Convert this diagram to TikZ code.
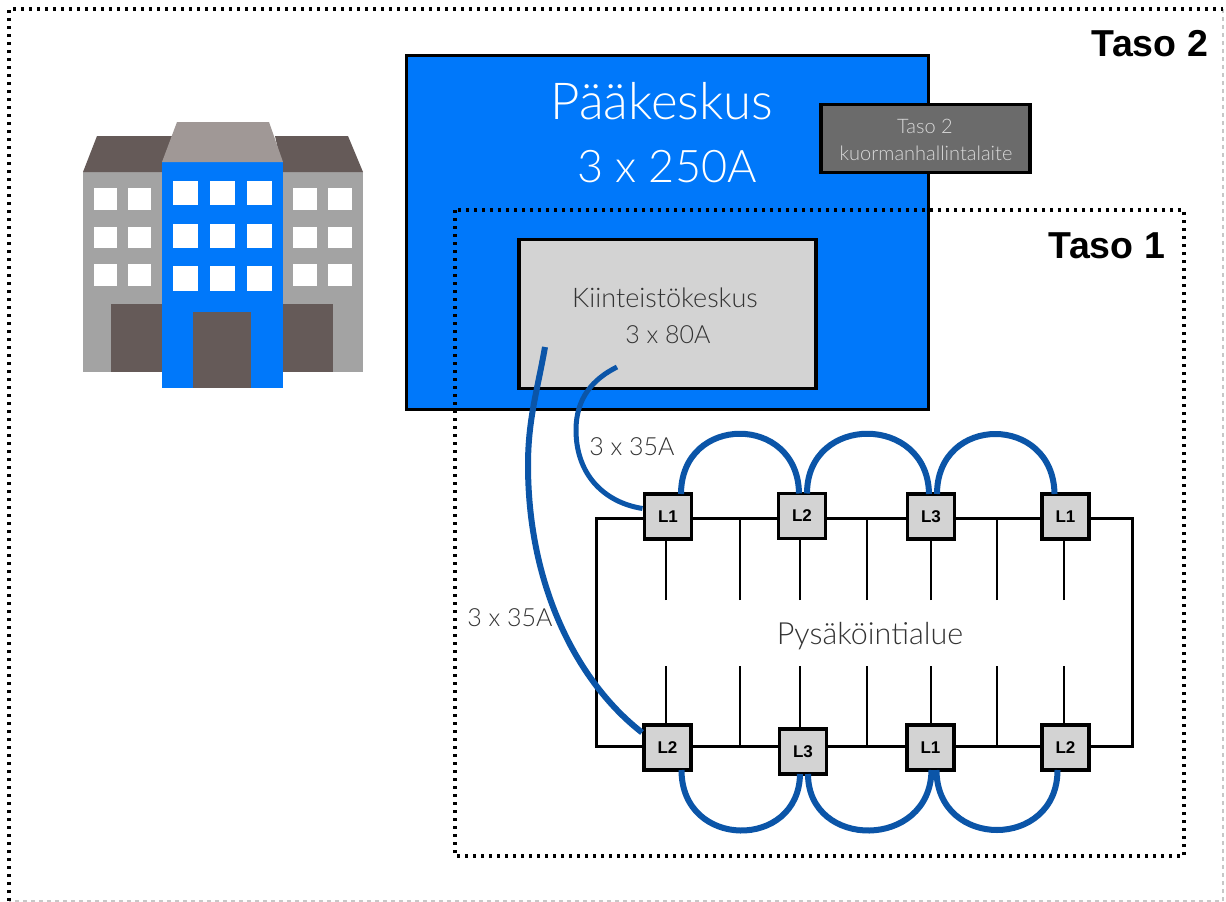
\documentclass[tikz,border=0pt]{standalone}
\usepackage{fontspec}
\setmainfont{Lato}[UprightFont=* Light,BoldFont=* Bold]
\newfontfamily\boldsans{Liberation Sans}[UprightFont=* Bold]
\usetikzlibrary{calc}
\definecolor{mainblue}{HTML}{0078FA}
\definecolor{wire}{HTML}{0B55A8}
\definecolor{wall}{HTML}{A3A3A3}
\definecolor{roofdark}{HTML}{655A58}
\definecolor{rooflight}{HTML}{A09896}
\definecolor{panel}{HTML}{D3D3D3}
\definecolor{dev}{HTML}{6B6B6B}
\definecolor{txt}{HTML}{333333}
\tikzset{
 every node/.style={inner sep=0pt,outer sep=0pt},
 frame/.style={draw=black,line width=3.2pt,dash pattern=on 3.4pt off 4.6pt},
 faintframe/.style={draw=black!22,line width=2pt,dash pattern=on 3.8pt off 4.2pt},
 box/.style={draw=black,line width=3.6pt,anchor=center},
 phase/.style={box,fill=panel,minimum width=47pt,minimum height=45pt,font=\boldsans\fontsize{17}{17}\selectfont},
 cable/.style={draw=wire,line width=6pt},
 gridline/.style={draw=black,line width=3pt},
 stub/.style={draw=black,line width=2.4pt},
 win/.style={fill=white},
 head/.style={font=\boldsans\fontsize{37.5}{37.5}\selectfont,anchor=east},
 lbl/.style={text=txt,font=\fontsize{25}{25}\selectfont},
}
\begin{document}
\begin{tikzpicture}[x=1pt,y=-1pt]
\useasboundingbox (0,0) rectangle (1226,902);
\fill[white] (0,0) rectangle (1226,902);
\coordinate (ftl) at (9,9);\coordinate (ftr) at (1223,9);
\coordinate (fbl) at (9,901);\coordinate (fbr) at (1223,901);
\draw[faintframe] (ftr) -- (fbr) -- (fbl);
\draw[frame] (fbl) -- (ftl) -- (ftr);
% building
\fill[wall] (83,172) rectangle (162,372);
\fill[wall] (283,172) rectangle (363,372);
\fill[roofdark] (83,172)--(97,136)--(172,136)--(162,172)--cycle;
\fill[roofdark] (283,172)--(275,136)--(348,136)--(363,172)--cycle;
\fill[roofdark] (111,304) rectangle (162,372);
\fill[roofdark] (283,304) rectangle (333,372);
\fill[mainblue] (162,162) rectangle (283,388);
\fill[rooflight] (162,162)--(177,122)--(269,122)--(283,162)--cycle;
\fill[roofdark] (193,312) rectangle (251,388);
\foreach \y/\e in {188/210,227/248,264/286}{
 \foreach \x/\f in {94/117,128/151,293/317,328/352}{
  \fill[win] (\x,\y) rectangle (\f,\e);}}
\foreach \y/\e in {181/205,224/248,266/291}{
 \foreach \x/\f in {173/198,210/235,247/272}{
  \fill[win] (\x,\y) rectangle (\f,\e);}}
% main panel
\node[box,fill=mainblue,minimum width=522pt,minimum height=354pt] (main) at (667.5,232.5) {};
\node[text=white,font=\fontsize{51}{51}\selectfont] (mainA) at (662,101) {Pääkeskus};
\node[text=white,font=\fontsize{45}{45}\selectfont] (mainB) at (667,167) {3 x 250A};
\node[box,fill=dev,minimum width=209pt,minimum height=68pt] (dev) at (925.5,138.5) {};
\node[text=white!85!black,font=\fontsize{20}{20}\selectfont] (devA) at (925,126) {Taso 2};
\node[text=white!85!black,font=\fontsize{20}{20}\selectfont] (devB) at (926,153) {kuormanhallintalaite};
\draw[frame] (455,210) rectangle (1184,856);
\node[box,fill=panel,minimum width=297pt,minimum height=149pt] (kk) at (667.5,314) {};
\node[text=txt,font=\fontsize{27}{27}\selectfont] (kkA) at (665,298) {Kiinteistökeskus};
\node[lbl] (kkB) at (668,335) {3 x 80A};
\node[head] (t2) at (1208,44) {Taso 2};
\node[head] (t1) at (1165,246) {Taso 1};
% parking grid
\node[gridline,minimum width=536pt,minimum height=228pt] (park) at (864,632) {};
\node[text=txt,font=\fontsize{30.5}{30.5}\selectfont] (pl) at (870,636) {Pysäköintialue};
\coordinate (s1) at (666,600);\coordinate (s2) at (740,600);\coordinate (s3) at (800,600);
\coordinate (s4) at (867,600);\coordinate (s5) at (931,600);\coordinate (s6) at (997,600);\coordinate (s7) at (1064,600);
\coordinate (b1) at (666,666);\coordinate (b2) at (740,666);\coordinate (b3) at (800,666);
\coordinate (b4) at (867,666);\coordinate (b5) at (931,666);\coordinate (b6) at (997,666);\coordinate (b7) at (1064,666);
\foreach \i in {1,...,7}{
 \draw[stub] (s\i) -- (s\i |- park.north);
 \draw[stub] (b\i) -- (b\i |- park.south);}
\node[phase] (a) at (668,516.5) {L1};
\node[phase] (b) at (802,516) {L2};
\node[phase] (c) at (931,516.5) {L3};
\node[phase] (d) at (1065.5,516.5) {L1};
\node[phase] (e) at (667.5,747.5) {L2};
\node[phase] (f) at (803,751.5) {L3};
\node[phase] (g) at (930.5,747.5) {L1};
\node[phase] (h) at (1065.5,747.5) {L2};
% cables
\coordinate (endA) at (617,367);
\coordinate (endB) at (545,347);
\coordinate (midA) at (576,430);
\coordinate (midB) at (528,465);
\draw[cable,line width=5pt] (a.west) ++(-2,-8) .. controls +(-38,-6) and +(0,45) .. (midA) .. controls +(0,-32) and +(-24,12) .. (endA);
\draw[cable] (e.west) ++(-2,-15) .. controls +(-62,-48) and +(0,125) .. (midB) .. controls +(0,-45) and +(-8,45) .. (endB);
\draw[cable] ([xshift=13pt]a.north) .. controls +(0,-80) and +(-1,-80) .. ([xshift=-3pt]b.north);
\draw[cable] ([xshift=5pt]b.north) .. controls +(0,-80) and +(-1,-80) .. ([xshift=-2pt]c.north);
\draw[cable] ([xshift=6pt]c.north) .. controls +(0,-80) and +(-1,-80) .. ([xshift=-11pt]d.north);
\draw[cable] ([xshift=14pt]e.south) .. controls +(0,80) and +(-1,76) .. ([xshift=-3pt]f.south);
\draw[cable] ([xshift=5pt]f.south) .. controls +(0,76) and +(-1,80) .. ([xshift=1pt]g.south);
\draw[cable] ([xshift=6pt]g.south) .. controls +(0,80) and +(0,80) .. ([xshift=-8pt]h.south);
\node[lbl] (la) at (632,447) {3 x 35A};
\node[lbl] (lb) at (510,618) {3 x 35A};
\end{tikzpicture}
\end{document}
